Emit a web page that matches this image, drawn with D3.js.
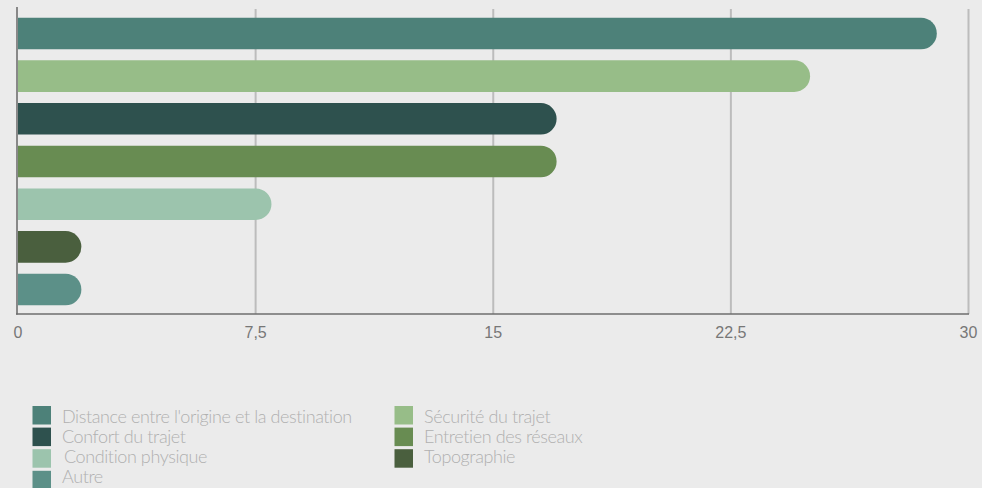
<!DOCTYPE html>
<html>
<head>
<meta charset="utf-8">
<script src="https://cdn.jsdelivr.net/npm/d3@7"></script>
<style>
  body { margin: 0; background: #ebebeb; }
  svg { display: block; font-family: "Liberation Sans", Arial, sans-serif; }
</style>
</head>
<body>
<div class="chart"></div>
<script>
var categories = ["Distance entre l'origine et la destination", "Sécurité du trajet", "Confort du trajet",
  "Entretien des réseaux", "Condition physique", "Topographie", "Autre"];
var values = [29, 25, 17, 17, 8, 2, 2];
var colors = ["#4d8179", "#97bd88", "#2e514e", "#688c52", "#9cc4ad", "#4a5f3e", "#5c9088"];
var ticks = [0, 7.5, 15, 22.5, 30];

const width = 982, height = 488;

var svg = d3.select(".chart").append("svg")
    .attr("width", width)
    .attr("height", height);

svg.append("rect").attr("width", width).attr("height", height).attr("fill", "#ebebeb");

var x = d3.scaleLinear().domain([0, 30]).range([18, 968.5]);
var y = d3.scaleBand().domain(categories).range([9, 314]).paddingInner(0.26).paddingOuter(0.204);

// gridlines
svg.append("g").selectAll("line")
    .data(ticks.filter(d => d > 0))
    .join("line")
    .attr("x1", d => x(d)).attr("x2", d => x(d))
    .attr("y1", 9).attr("y2", 314)
    .attr("stroke", "#bcbcbc")
    .attr("stroke-width", 2);

// bars, rounded on the right end only
function pill(d, i) {
    var x0 = x(0), x1 = x(values[i]), y0 = y(d), h = y.bandwidth(), r = h / 2;
    return `M${x0},${y0}H${x1 - r}A${r},${r} 0 0 1 ${x1},${y0 + r}A${r},${r} 0 0 1 ${x1 - r},${y0 + h}H${x0}Z`;
}

svg.append("g").selectAll("path")
    .data(categories)
    .join("path")
    .attr("d", pill)
    .attr("fill", (d, i) => colors[i]);

// axes lines
svg.append("line")
    .attr("x1", 17).attr("x2", 17).attr("y1", 7).attr("y2", 314.5)
    .attr("stroke", "#888").attr("stroke-width", 2);
svg.append("line")
    .attr("x1", 16).attr("x2", 969).attr("y1", 314).attr("y2", 314)
    .attr("stroke", "#6e6e6e").attr("stroke-width", 1.5);

// tick labels
svg.append("g").selectAll("text")
    .data(ticks)
    .join("text")
    .attr("x", d => x(d))
    .attr("y", 338)
    .attr("text-anchor", "middle")
    .attr("fill", "#777")
    .attr("font-size", 16)
    .text(d => String(d).replace(".", ","));

// legend (two columns, row-major)
var legend = svg.append("g").selectAll("g")
    .data(categories)
    .join("g")
    .attr("transform", (d, i) => `translate(${i % 2 === 0 ? 32.5 : 394.5}, 0)`);

legend.append("rect")
    .attr("y", (d, i) => 406 + Math.floor(i / 2) * 21.6)
    .attr("width", 18.5).attr("height", 18.5)
    .attr("fill", (d, i) => colors[i]);

legend.append("text")
    .attr("x", (d, i) => i === 4 ? 31.5 : 29.5)
    .attr("y", (d, i) => 422.7 + Math.floor(i / 2) * 20.2)
    .attr("fill", "#b0b0b0")
    .style("font-family", "Lato, sans-serif")
    .style("font-weight", 300)
    .attr("font-size", 18)
    .attr("letter-spacing", "-0.4px")
    .text(d => d);
</script>
</body>
</html>
